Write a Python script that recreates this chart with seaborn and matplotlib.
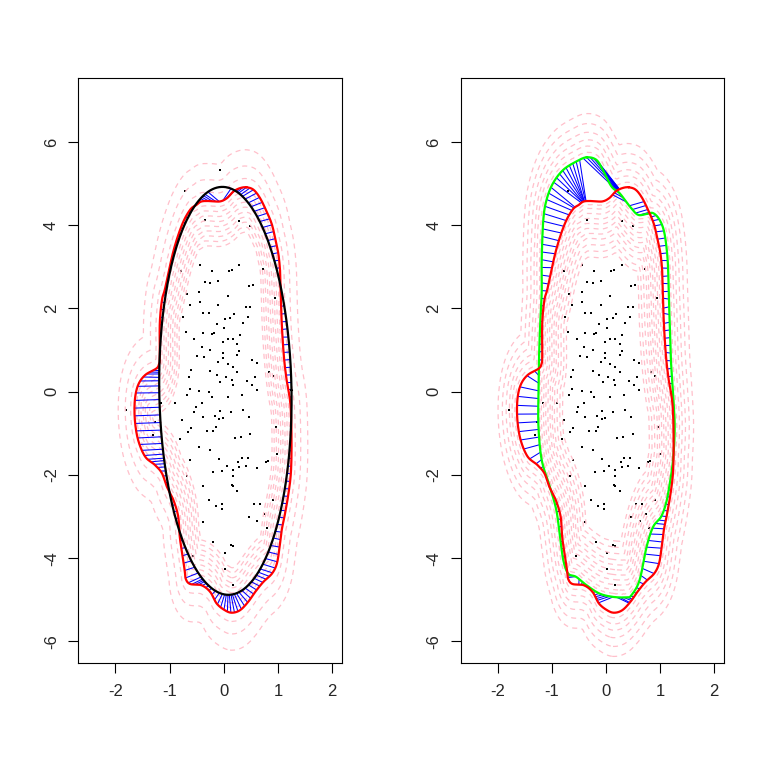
import numpy as np
import matplotlib
matplotlib.use("Agg")
import matplotlib.pyplot as plt
from matplotlib.path import Path
from matplotlib.collections import LineCollection
import seaborn as sns
import pandas as pd

# ---------------- data ----------------
pts_x = [-0.06, -0.71, -0.35, 0.29, 0.49, -0.44, 0.29, -0.78, -0.22, 0.09, 0.15, 0.72, -0.35, -0.25, -0.10, 0.47, 0.54,
         -0.45, -0.68, 0.07, -0.63, -0.44, -0.10, 0.41, 0.49, -0.76, -0.38, -0.28, 0.18, 0.12, 0.44, 0.02, -0.13, 0.01,
         0.36, -0.70, -0.38, -0.22, -0.18, 0.30, -0.54, -0.01, 0.08, 0.17, 0.25, -0.41, -0.25, 0.29, -0.01, -0.49, -0.36,
         0.25, -0.10, -0.02, 0.08, 0.17, 0.52, 0.61, -0.61, -0.25, 0.25, -0.13, -0.65, 0.04, 0.58, 0.84, -0.06, 0.15, 0.42,
         0.90, 0.17, 0.52, -0.63, -0.45, -0.27, 0.61, -0.68, -0.22, 0.08, 0.33, -0.41, -0.90,
         -0.51, -0.54, -0.07, 0.13, 0.36, -0.39, -0.16, -0.08, -0.01, 0.47, -0.77, -0.61, -0.14, -0.31, -0.19, -0.66, 0.31,
         0.49, -0.81, 0.21, -0.45, -0.25, -0.62, 0.33, 0.45, 0.27, 0.78, -0.08, 0.41, 0.29, 0.06, 0.61, 0.17, -0.04, -0.20,
         0.17, -0.67, 0.15, 0.17, -0.38, 0.25, -0.27, 0.56, 0.66, -0.04, -0.14, -0.04, 0.74, 0.47,
         -0.38, 0.62, -0.19, 0.13, 0.17, 0.02, -0.56, 0.02, 0.17,
         -1.80, -1.16, -1.27, -1.31, 0.96, 0.99, 0.90, 0.79, 0.82, 0.94]
pts_y = [5.33, 4.81, 4.13, 4.11, 3.98, 3.05, 3.05, 2.90, 2.89, 2.91, 2.93, 2.95, 2.63, 2.61, 2.66, 2.55, 2.57,
         2.40, 2.35, 2.31, 2.08, 2.16, 2.08, 2.04, 2.03, 1.80, 1.90, 1.88, 1.87, 1.76, 1.79, 1.74, 1.62, 1.54,
         1.64, 1.43, 1.42, 1.38, 1.42, 1.35, 1.26, 1.20, 1.26, 1.27, 1.15, 1.08, 1.00, 0.98, 0.92, 0.86, 0.84,
         0.87, 0.72, 0.82, 0.67, 0.60, 0.76, 0.70, 0.52, 0.50, 0.48, 0.40, 0.36, 0.35, 0.36, 0.48, 0.24, 0.28, 0.26,
         0.38, 0.16, 0.16, 0.06, 0.02, -0.01, 0.04, -0.08, -0.13, -0.13, -0.08, -0.28, -0.28,
         -0.36, -0.48, -0.46, -0.50, -0.44, -0.62, -0.58, -0.66, -0.64, -0.62, -0.68, -0.88, -0.84, -0.94, -0.94, -0.96, -1.08,
         -1.02, -1.14, -1.11, -1.32, -1.40, -1.64, -1.59, -1.60, -1.68, -1.68, -1.62, -1.78, -1.80, -1.78, -1.83, -1.87, -1.91, -1.92,
         -2.02, -2.02, -2.23, -2.27, -2.27, -2.39, -2.60, -2.70, -2.71, -2.71, -2.74, -2.83, -2.95, -3.00,
         -3.13, -3.10, -3.61, -3.69, -3.71, -3.87, -3.95, -4.25, -4.65,
         -0.44, -0.28, -0.72, -1.04, -0.84, -1.50, -2.60, -3.28, -1.67, 2.24]

red_x = [0.42, 0.30, 0.18, 0.06, -0.07, -0.25, -0.41, -0.50, -0.62, -0.77, -0.93, -1.08, -1.14, -1.18, -1.18, -1.19,
         -1.24, -1.45, -1.58, -1.64, -1.64, -1.58, -1.45, -1.27, -1.14, -1.05, -0.93, -0.84, -0.81, -0.76, -0.72, -0.70,
         -0.62, -0.41, -0.25, -0.13, 0.02, 0.15, 0.30, 0.45, 0.58, 0.73, 0.89, 0.98, 1.03, 1.07, 1.12, 1.19, 1.24, 1.25,
         1.23, 1.16, 1.11, 1.07, 1.05, 1.04, 1.01, 0.96, 0.89, 0.79, 0.67, 0.55]
red_y = [4.91, 4.89, 4.81, 4.65, 4.57, 4.58, 4.57, 4.49, 4.37, 4.01, 3.37, 2.49, 2.20, 1.64, 0.84, 0.68,
         0.56, 0.40, 0.16, -0.20, -0.68, -1.16, -1.56, -1.76, -1.96, -2.28, -2.60, -3.00, -3.50, -3.95, -4.30, -4.50,
         -4.62, -4.65, -4.81, -5.09, -5.25, -5.31, -5.25, -5.05, -4.81, -4.57, -4.37, -4.13, -3.73, -3.32, -3.00, -2.48, -1.92, -1.12,
         -0.30, 0.28, 0.84, 1.64, 2.45, 2.88, 3.29, 3.61, 4.01, 4.33, 4.65, 4.85]

green_x = [-0.36, -0.18, -0.06, 0.10, 0.25, 0.44, 0.59, 0.75, 0.87, 0.99, 1.08, 1.14, 1.16, 1.18, 1.20,
           1.24, 1.27, 1.24, 1.17, 1.11, 1.02, 0.87, 0.75, 0.62, 0.47, 0.38, 0.13, -0.12, -0.36, -0.55, -0.70,
           -0.79, -0.85, -0.92, -1.04, -1.19, -1.25, -1.25, -1.24, -1.22, -1.19, -1.19, -1.16, -1.10, -0.98, -0.79, -0.55]
green_y = [5.63, 5.57, 5.33, 4.93, 4.77, 4.45, 4.25, 4.27, 4.29, 4.13, 3.81, 3.17, 2.37, 1.56, 0.76,
           -0.04, -0.84, -1.64, -2.28, -2.68, -3.00, -3.25, -3.73, -4.53, -4.89, -4.94, -4.93, -4.85, -4.65, -4.45, -4.37,
           -4.05, -3.49, -2.84, -2.28, -1.64, -0.84, -0.04, 0.76, 1.56, 2.37, 3.17, 4.13, 4.61, 5.01, 5.33, 5.53]

ellipse_center = (0.03, 0.02)
ellipse_axes = (1.22, 4.90)
ellipse_tilt = 0.012

pink_levels_left_in = [-0.36, -0.32, -0.28, -0.24, -0.20, -0.16, -0.12, -0.08, -0.04]
pink_levels_left_out = [0.07, 0.17, 0.30]
pink_levels_right_in = [-0.45, -0.40, -0.35, -0.30, -0.26, -0.22, -0.18, -0.14, -0.10, -0.06, -0.03]
pink_levels_right_out = [0.04, 0.09, 0.14, 0.20, 0.27, 0.35]

x_ticks = [-2, -1, 0, 1, 2]
y_ticks = [-6, -4, -2, 0, 2, 4, 6]
x_tick_labels = ["-2", "-1", "0", "1", "2"]
y_tick_labels = ["-6", "-4", "-2", "0", "2", "4", "6"]

# ---------------- helpers ----------------
def closed_curve(xs, ys, n_per=14):
    P = np.column_stack([xs, ys]).astype(float)
    n = len(P)
    t = np.linspace(0, 1, n_per, endpoint=False)[:, None]
    out = []
    for i in range(n):
        p0, p1, p2, p3 = P[(i - 1) % n], P[i], P[(i + 1) % n], P[(i + 2) % n]
        out.append(0.5 * (2 * p1 + (-p0 + p2) * t + (2 * p0 - 5 * p1 + 4 * p2 - p3) * t ** 2
                          + (-p0 + 3 * p1 - 3 * p2 + p3) * t ** 3))
    out = np.vstack(out)
    return np.vstack([out, out[:1]])


def ellipse_curve(n=1500):
    t = np.linspace(0, 2 * np.pi, n)
    a, b = ellipse_axes
    ex, ey = a * np.cos(t), b * np.sin(t)
    c, s = np.cos(ellipse_tilt), np.sin(ellipse_tilt)
    return np.column_stack([ellipse_center[0] + c * ex - s * ey, ellipse_center[1] + s * ex + c * ey])


def resample(C, hx=0.065, hy=0.185):
    d = np.hypot(np.diff(C[:, 0]) / hx, np.diff(C[:, 1]) / hy)
    s = np.concatenate([[0], np.cumsum(d)])
    k = int(s[-1])
    u = np.linspace(0, s[-1], k, endpoint=False)
    return np.column_stack([np.interp(u, s, C[:, 0]), np.interp(u, s, C[:, 1])])


def nearest(src, tgt):
    d = ((src[:, None, :] - tgt[None, :, :]) ** 2).sum(-1)
    return tgt[np.argmin(d, axis=1)]


gx = np.linspace(-2.75, 2.25, 260)
gy = np.linspace(-6.6, 7.6, 520)
GX, GY = np.meshgrid(gx, gy)
G = np.column_stack([GX.ravel(), GY.ravel()])


def signed_dist(C, k=3.0):
    Cs = C[::2] * np.array([1, 1 / k])
    Gs = G * np.array([1, 1 / k])
    out = np.empty(len(G))
    for i in range(0, len(G), 4000):
        blk = Gs[i:i + 4000]
        out[i:i + 4000] = np.sqrt(((blk[:, None, :] - Cs[None, :, :]) ** 2).sum(-1).min(1))
    inside = Path(C).contains_points(G)
    out[inside] *= -1
    return out.reshape(GX.shape)


red_c = closed_curve(red_x, red_y)
green_c = closed_curve(green_x, green_y)
ell_c = ellipse_curve()

sd_red = signed_dist(red_c)
sd_green = signed_dist(green_c)

# ---------------- figure ----------------
sns.set_style("white")
plt.rcParams['font.family'] = ['Liberation Sans', 'DejaVu Sans']
plt.rcParams['axes.unicode_minus'] = False

fig = plt.figure(figsize=(7.65, 7.61), dpi=100)
ax1 = fig.add_axes([0.1024, 0.1292, 0.3451, 0.768])
ax2 = fig.add_axes([0.6026, 0.1292, 0.3442, 0.768])

PINK = "#FFC0CB"
pdots = pd.DataFrame({"x": pts_x, "y": pts_y})


def pink(ax, field, levels):
    ax.contour(GX, GY, field, levels=sorted(levels), colors=PINK, linewidths=0.9,
               linestyles=[(0, (4, 3.5))])


def line(ax, C, color, lw):
    df = pd.DataFrame({"x": C[:, 0], "y": C[:, 1], "o": np.arange(len(C))})
    sns.lineplot(data=df, x="x", y="y", sort=False, estimator=None, color=color, linewidth=lw, ax=ax)


# left panel
pink(ax1, sd_red, pink_levels_left_in + pink_levels_left_out)
sns.scatterplot(data=pdots, x="x", y="y", s=2.4, marker="s", color="black", linewidth=0, ax=ax1)
src = resample(red_c)
dst = nearest(src, ell_c)
ax1.add_collection(LineCollection(np.stack([src, dst], axis=1), colors="#0000FF", linewidths=0.75))
line(ax1, red_c, "#FF0000", 1.6)
line(ax1, ell_c, "black", 1.6)

# right panel
pink(ax2, np.maximum(sd_red, sd_green), pink_levels_right_in)
pink(ax2, np.minimum(sd_red, sd_green), pink_levels_right_out)
sns.scatterplot(data=pdots, x="x", y="y", s=2.4, marker="s", color="black", linewidth=0, ax=ax2)
src = resample(green_c)
dst = nearest(src, red_c)
ax2.add_collection(LineCollection(np.stack([src, dst], axis=1), colors="#0000FF", linewidths=0.75))
line(ax2, green_c, "#00FF00", 1.6)
line(ax2, red_c, "#FF0000", 1.6)

for ax in (ax1, ax2):
    ax.set_xlim(-2.683, 2.188)
    ax.set_ylim(-6.51, 7.53)
    ax.set_xticks(x_ticks)
    ax.set_xticklabels(x_tick_labels, fontsize=12)
    ax.set_yticks(y_ticks)
    ax.set_yticklabels(y_tick_labels, rotation=90, va="center", fontsize=12)
    ax.set_xlabel("")
    ax.set_ylabel("")
    ax.tick_params(direction="out", length=7, width=0.8, color="black",
                   bottom=True, left=True, top=False, right=False)
    ax.tick_params(axis="x", pad=8)
    ax.tick_params(axis="y", pad=7)
    for sp in ax.spines.values():
        sp.set_visible(True)
        sp.set_color("black")
        sp.set_linewidth(0.8)

fig.savefig("out.png", dpi=100, facecolor="white")
